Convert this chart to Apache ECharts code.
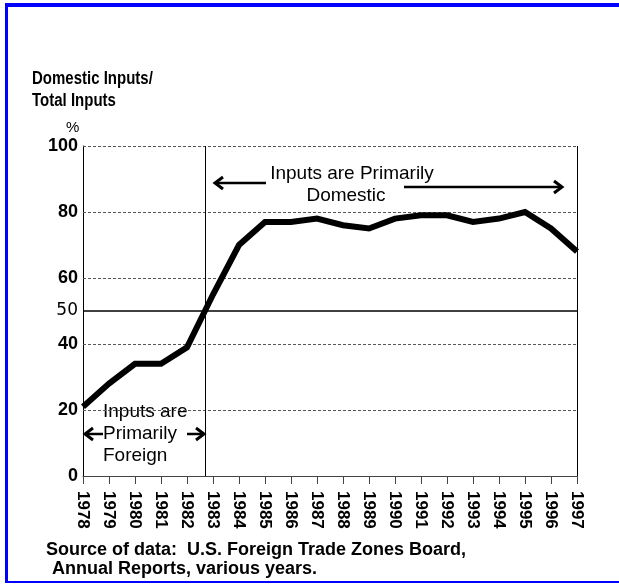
<!DOCTYPE html>
<html>
<head>
<meta charset="utf-8">
<script src="https://cdn.jsdelivr.net/npm/echarts@6/dist/echarts.min.js"></script>
<style>html,body{margin:0;padding:0;background:#fff;}#c{width:619px;height:584px;}</style>
</head>
<body>
<div id="c"></div>
<script>
const years = [1978,1979,1980,1981,1982,1983,1984,1985,1986,1987,1988,1989,1990,1991,1992,1993,1994,1995,1996,1997];
const domesticShare = [21,28,34,34,39,55,70,77,77,78,76,75,78,79,79,77,78,80,75,68];
const yTickLabels = [0,20,40,50,60,80,100];
const dashedGridValues = [20,40,60,80,100];
const referenceLevel = 50;
const crossoverYear = 1982.69;

const FONT = 'Liberation Sans, Arial, sans-serif';
const chart = echarts.init(document.getElementById('c'), null, {renderer:'canvas'});

const gridLines = dashedGridValues.map(v => ({yAxis: v, lineStyle:{type:[3,2], color:'#555', width:1}}));
gridLines.push({yAxis: referenceLevel, lineStyle:{type:'solid', color:'#000', width:1.5}});
gridLines.push({xAxis: crossoverYear, lineStyle:{type:'solid', color:'#000', width:1}});
gridLines.push({xAxis: years[years.length-1], lineStyle:{type:'solid', color:'#000', width:1}});

function arrow(x1, x2, y, headAt) {
  const hx = headAt === 'left' ? x1 : x2;
  const d = headAt === 'left' ? 8 : -8;
  return [
    {type:'line', shape:{x1:x1, y1:y, x2:x2, y2:y}, style:{stroke:'#000', lineWidth:2.5}},
    {type:'polyline', shape:{points:[[hx+d, y-6],[hx, y],[hx+d, y+6]]}, style:{stroke:'#000', lineWidth:3, fill:null}}
  ];
}

const option = {
  animation: false,
  backgroundColor: '#fff',
  grid: {left:83, right:42, top:146, bottom:108, containLabel:false},
  xAxis: {
    type:'value', min:1978, max:1997, interval:1,
    axisLine:{show:true, onZero:false, lineStyle:{color:'#444', width:1}},
    axisTick:{show:true, length:8, lineStyle:{color:'#444', width:1}},
    splitLine:{show:false},
    axisLabel:{rotate:-90, margin:15, fontFamily:FONT, fontWeight:'bold', fontSize:17, color:'#000',
      formatter: v => String(v)}
  },
  yAxis: {
    type:'value', min:0, max:100, interval:10,
    axisLine:{show:true, lineStyle:{color:'#000', width:1}},
    axisTick:{show:false},
    splitLine:{show:false},
    axisLabel:{margin:5, fontFamily:FONT, fontWeight:'bold', fontSize:18, color:'#000',
      formatter: v => yTickLabels.indexOf(v) < 0 ? '' : (v === referenceLevel ? '{m|' + v + '}' : String(v)),
      rich:{m:{fontFamily:'DejaVu Sans, sans-serif', fontSize:17, fontWeight:'normal', color:'#000'}}
    }
  },
  series: [{
    type:'line',
    data: years.map((y,i) => [y, domesticShare[i]]),
    showSymbol:false, symbol:'none',
    lineStyle:{color:'#000', width:6, join:'miter'},
    clip:false,
    markLine:{silent:true, symbol:['none','none'], label:{show:false}, data: gridLines, z:1},
    z:5
  }],
  graphic: [
    {type:'rect', shape:{x:5, y:3, width:614, height:4}, style:{fill:'#0000ff'}},
    {type:'rect', shape:{x:5, y:3, width:3, height:580}, style:{fill:'#0000ff'}},
    {type:'rect', shape:{x:5, y:581, width:614, height:2}, style:{fill:'#0000ff'}},
    {type:'text', x:32, y:79, scaleY:1.22, style:{text:'Domestic Inputs/', font:'bold 15px ' + FONT, fill:'#000', verticalAlign:'middle'}},
    {type:'text', x:32, y:101, scaleY:1.22, style:{text:'Total Inputs', font:'bold 15px ' + FONT, fill:'#000', verticalAlign:'middle'}},
    {type:'text', x:66, y:128, style:{text:'%', font:'15px ' + FONT, fill:'#000', verticalAlign:'middle'}},
    {type:'text', x:352, y:174, style:{text:'Inputs are Primarily', font:'19px ' + FONT, fill:'#000', align:'center', verticalAlign:'middle'}},
    {type:'text', x:346, y:196, style:{text:'Domestic', font:'19px ' + FONT, fill:'#000', align:'center', verticalAlign:'middle'}},
    {type:'text', x:103, y:412, style:{text:'Inputs are', font:'19px ' + FONT, fill:'#000', align:'left', verticalAlign:'middle'}},
    {type:'text', x:103, y:434, style:{text:'Primarily', font:'19px ' + FONT, fill:'#000', align:'left', verticalAlign:'middle'}},
    {type:'text', x:103, y:456, style:{text:'Foreign', font:'19px ' + FONT, fill:'#000', align:'left', verticalAlign:'middle'}},
    ...arrow(215, 266, 183, 'left'),
    ...arrow(404, 562, 187, 'right'),
    ...arrow(85, 103, 434, 'left'),
    ...arrow(187, 204, 434, 'right'),
    {type:'text', x:46, y:550, style:{text:'Source of data:  U.S. Foreign Trade Zones Board,', font:'bold 18px ' + FONT, fill:'#000', verticalAlign:'middle'}},
    {type:'text', x:52, y:569, style:{text:'Annual Reports, various years.', font:'bold 18px ' + FONT, fill:'#000', verticalAlign:'middle'}}
  ]
};
chart.setOption(option);
</script>
</body>
</html>
